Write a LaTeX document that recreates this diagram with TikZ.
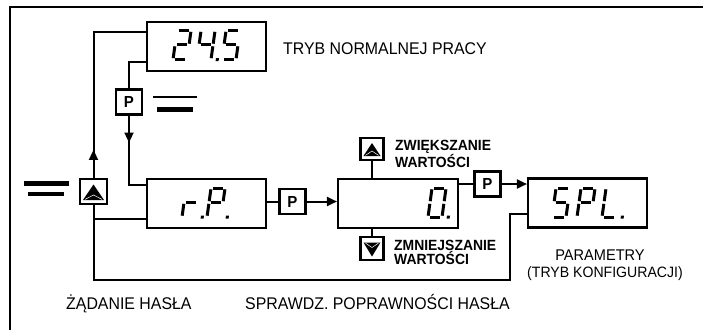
\documentclass[tikz,border=0pt]{standalone}
\usepackage{fontspec}
\setmainfont{Liberation Sans}[FakeStretch=0.94]
\usetikzlibrary{arrows.meta,calc}
\tikzset{
 box/.style={draw, line width=2.1pt, inner sep=0pt, minimum width=119pt, minimum height=49pt},
 pbox/.style={draw, line width=2.1pt, inner sep=0pt, minimum width=26pt, minimum height=25pt, font=\fontsize{16}{16}\selectfont\bfseries},
 tbox/.style={draw, line width=2.1pt, inner sep=0pt, minimum width=23pt, minimum height=22pt},
 conn/.style={line width=2pt},
 tip/.style={-{Triangle[length=10pt,width=9pt]}},
 seg/.style={line width=3pt, line cap=butt},
 lbl/.style={inner sep=0pt, font=\fontsize{16.9}{17}\selectfont},
 slbl/.style={inner sep=0pt, font=\fontsize{15.5}{17}\selectfont},
 blbl/.style={inner sep=0pt, align=left, font=\fontsize{14.8}{14}\selectfont\bfseries},
}
\newcommand{\SgA}{\draw[seg] (0.15,1)--(0.85,1);}
\newcommand{\SgB}{\draw[seg] (1,0.955)--(1,0.545);}
\newcommand{\SgC}{\draw[seg] (1,0.455)--(1,0.045);}
\newcommand{\SgD}{\draw[seg] (0.15,0)--(0.85,0);}
\newcommand{\SgE}{\draw[seg] (0,0.455)--(0,0.045);}
\newcommand{\SgF}{\draw[seg] (0,0.955)--(0,0.545);}
\newcommand{\SgG}{\draw[seg] (0.15,0.5)--(0.85,0.5);}
\newcommand{\SgP}{\fill (1.45,0) ++(-1.5pt,-1.5pt) rectangle ++(3pt,3pt);}
\newcommand{\sevdigit}[3]{\begin{scope}[shift={(#1,#2)},xslant=0.14,x=14pt,y=29pt]#3\end{scope}}
\newcommand{\uptri}[4]{%
 \fill ($(#1)+(-#2,#4)$) -- ($(#1)+(#2,#4)$) -- ($(#1)+(0,-#3)$) -- cycle;
 \draw[white,line width=0.5pt] ($(#1)+(-#2+2,#4-0.6)$) -- ($(#1)+(0,#4-5)$) -- ($(#1)+(#2-2,#4-0.6)$);}
\newcommand{\dntri}[4]{%
 \fill ($(#1)+(-#2,-#3)$) -- ($(#1)+(#2,-#3)$) -- ($(#1)+(0,#4)$) -- cycle;
 \draw[white,line width=0.5pt] ($(#1)+(-#2+2,-#3+0.6)$) -- ($(#1)+(0,-#3+5)$) -- ($(#1)+(#2-2,-#3+0.6)$);}
\begin{document}
\begin{tikzpicture}[x=1pt,y=-1pt]
\useasboundingbox (0,0) rectangle (703,329);
% frame
\draw[line width=2.2pt] (10,340) -- (10,7) -- (715,7);
% displays
\node[box] (d1) at (206.5,46.5) {};
\node[box] (d2) at (206.5,203.5) {};
\node[box, minimum width=120pt] (d3) at (398,203.5) {};
\node[box] (d4) at (587.5,203) {};
% P buttons
\node[pbox] (p1) at (129,102) {P};
\node[pbox] (p2) at (292.5,201.5) {P};
\node[pbox] (p3) at (487.5,184) {P};
% arrow buttons
\node[tbox, minimum width=27pt, minimum height=25pt] (u1) at (93.5,191.5) {};
\node[tbox] (u2) at (372,149) {};
\node[tbox, minimum height=23pt] (dn) at (372,248.5) {};
\uptri{u1}{10.5}{7}{8.5}
\uptri{u2}{8.5}{6}{7}
\dntri{dn}{8.5}{6}{8}
% digits
\sevdigit{173}{59.5}{\SgA\SgB\SgG\SgE\SgD}
\sevdigit{197}{59.5}{\SgF\SgG\SgB\SgC\SgP}
\sevdigit{222}{59.5}{\SgA\SgF\SgG\SgC\SgD}
\sevdigit{182}{217}{\SgE\SgG\SgP}
\sevdigit{207}{217}{\SgA\SgB\SgF\SgG\SgE\SgP}
\sevdigit{428}{217}{\SgA\SgB\SgC\SgD\SgE\SgF\SgP}
\sevdigit{552}{217}{\SgA\SgF\SgG\SgC\SgD}
\sevdigit{577}{217}{\SgA\SgB\SgF\SgG\SgE}
\sevdigit{602}{217}{\SgF\SgE\SgD\SgP}
% connectors
\coordinate (a1) at (93.5,32);
\coordinate (b1) at (129,62);
\coordinate (b2) at (129,185);
\coordinate (c1) at (93.5,280);
\coordinate (c2) at (510,280);
\coordinate (c3) at (510,214);
\coordinate (c4) at (93.5,219);
\draw[conn] (u1.north) -- (a1) -- (a1 -| d1.west);
\draw[conn,tip] (u1.north) -- ++(0,-28);
\draw[conn] (b1 -| d1.west) -- (b1) -- (p1.north);
\draw[conn] (p1.south) -- (b2) -- (b2 -| d2.west);
\draw[conn,tip] (p1.south) -- ++(0,27);
\draw[conn] (u1.south) -- (c1) -- (c2) -- (c3) -- (c3 -| d4.west);
\draw[conn] (c4) -- (c4 -| d2.west);
\draw[conn] (p2.west -| d2.east) -- (p2.west);
\draw[conn,tip] (p2.east) -- (p2.east -| d3.west);
\draw[conn] (p3.west -| d3.east) -- (p3.west);
\draw[conn,tip] (p3.east) -- (p3.east -| d4.west);
\draw[conn] (u2.south) -- (u2.south |- d3.north);
\draw[conn] (d3.south -| dn.north) -- (dn.north);
% equals marks
\draw[line width=2.3pt] (153,97) -- (197,97);
\draw[line width=5pt] (157,109) -- (193,109);
\draw[line width=5pt] (24,183.3) -- (69,183.3);
\draw[line width=3.3pt] (28,194) -- (64,194);
% labels
\node[lbl, anchor=west] (t1) at (283,48.5) {TRYB NORMALNEJ PRACY};
\node[blbl, anchor=north west] (t2) at (395,140) {ZWIĘKSZANIE\\WARTOŚCI};
\node[blbl, anchor=north west] (t3) at (394,240) {ZMNIEJSZANIE\\WARTOŚCI};
\node[lbl, anchor=base west] (t4) at (66,309) {ŻĄDANIE HASŁA};
\node[lbl, anchor=base west] (t5) at (245,309) {SPRAWDZ. POPRAWNOŚCI HASŁA};
\node[slbl, anchor=base] (t6) at (600,260) {PARAMETRY};
\node[slbl, anchor=base, font=\fontsize{15}{17}\selectfont] (t7) at (605,277) {(TRYB KONFIGURACJI)};
\end{tikzpicture}
\end{document}
